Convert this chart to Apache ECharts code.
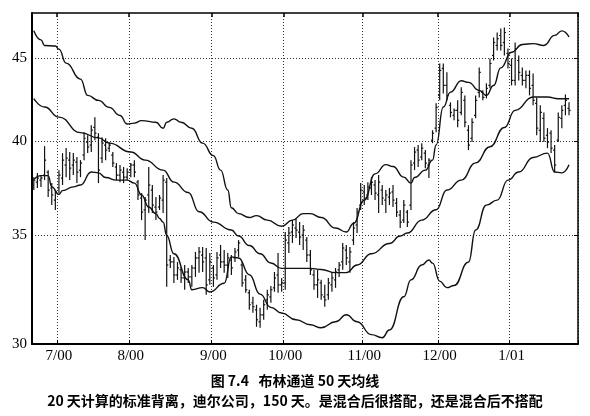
<!DOCTYPE html>
<html><head><meta charset="utf-8">
<script src="https://cdn.jsdelivr.net/npm/echarts@6/dist/echarts.min.js"></script>
<style>html,body{margin:0;padding:0;background:#fff}#c{width:590px;height:416px}</style>
</head><body><div id="c"></div>
<script>
// ---- calendar (trading days) ----
const startDate = '2000-06-22';
const nDays = 152;
const holidays = ['2000-07-04','2000-09-04','2000-11-23','2000-12-25','2001-01-01','2001-01-15'];

// ---- y ticks ----
const yTicks = [30, 35, 40, 45];

// ---- daily bars (150 days) ----
const opens = [37.60,37.75,37.86,38.13,38.29,37.44,36.80,37.44,37.97,38.68,
 38.95,38.68,38.84,38.40,39.23,39.96,39.79,40.81,40.24,39.06,
 39.79,39.62,39.23,38.57,38.13,38.29,38.02,38.40,38.68,37.75,
 36.91,36.29,37.07,37.33,36.44,36.44,36.80,37.75,33.80,33.71,
 33.09,33.33,32.95,33.23,33.00,33.42,33.90,34.04,33.90,32.86,
 33.42,33.09,34.04,33.71,33.56,33.80,33.90,34.28,33.56,32.86,
 32.26,31.81,31.49,30.96,31.27,31.94,32.08,32.49,33.09,32.63,
 32.72,34.63,35.17,35.37,35.17,35.02,34.77,34.04,33.09,32.63,
 32.72,32.08,32.17,32.63,32.86,33.33,33.71,34.28,33.71,34.77,
 35.52,36.54,37.23,37.07,37.44,37.60,37.07,37.33,36.80,36.96,
 37.23,36.64,36.03,35.77,36.18,36.54,38.79,39.51,39.12,39.34,
 38.68,40.07,40.76,42.70,44.37,43.31,42.10,41.51,41.80,41.68,
 42.40,40.64,40.18,41.51,42.88,42.88,42.70,43.31,45.19,45.84,
 46.49,46.03,45.32,44.56,43.62,44.87,43.93,43.62,43.93,43.31,
 42.22,40.64,41.33,40.35,40.47,39.51,40.07,41.33,42.10,41.92];
const highs = [38.02,38.24,38.13,39.73,38.40,37.70,37.33,38.40,39.34,39.62,
 39.40,39.34,39.12,38.95,40.53,40.35,40.93,41.39,40.47,40.24,
 40.18,39.96,39.40,38.79,38.68,38.57,38.51,38.79,38.95,37.86,
 37.17,36.96,38.57,37.60,36.96,37.07,38.13,37.97,34.04,33.95,
 33.71,33.47,33.56,33.42,33.56,34.19,34.43,34.43,34.38,34.14,
 33.56,34.19,34.53,34.28,34.14,34.04,34.38,34.77,33.71,33.09,
 32.40,32.08,31.72,31.58,31.94,32.40,32.58,33.23,34.14,32.95,
 35.17,35.42,35.77,35.88,35.67,35.52,34.92,34.28,33.33,33.33,
 32.86,32.63,32.95,33.19,33.42,33.71,34.63,34.53,34.43,35.67,
 36.39,37.70,37.60,37.75,38.02,37.86,38.13,37.60,37.33,37.44,
 37.60,36.91,36.29,36.80,36.29,38.95,39.68,39.79,39.90,39.51,
 39.06,40.64,42.22,44.68,44.68,44.12,42.28,41.92,42.40,43.19,
 42.70,40.93,41.33,42.70,44.43,43.01,43.44,45.00,46.36,46.69,
 46.95,47.02,45.64,45.00,46.03,45.19,44.43,44.24,44.24,44.05,
 42.58,42.10,41.68,40.76,40.64,39.79,41.68,42.10,42.76,42.28];
const lows = [37.33,37.44,37.49,37.86,36.96,36.54,36.29,37.17,37.60,38.02,
 37.86,38.13,37.70,38.02,38.95,39.34,39.40,40.07,37.70,38.79,
 38.95,39.40,38.57,37.86,37.75,37.70,37.86,38.02,38.02,36.80,
 35.77,34.77,36.13,36.13,35.77,36.29,36.13,32.54,33.42,32.72,
 32.86,32.72,32.40,32.72,32.54,33.00,33.19,33.23,32.17,32.63,
 32.54,32.86,33.42,33.19,32.95,33.09,33.71,33.95,32.54,32.26,
 31.49,31.36,30.74,30.70,31.05,31.49,31.81,32.31,32.26,32.31,
 32.40,34.14,34.63,34.87,34.53,34.28,33.71,33.09,32.40,32.03,
 31.94,31.63,31.94,32.31,32.49,33.00,33.33,33.56,33.19,34.53,
 35.12,36.29,36.54,36.80,37.07,36.80,36.13,36.54,36.13,36.54,
 36.44,35.93,35.37,35.62,35.42,36.29,38.40,38.57,38.95,38.51,
 37.97,39.90,40.53,42.40,42.82,42.40,41.39,41.22,40.81,41.51,
 40.81,39.51,39.96,41.33,42.58,42.40,42.52,43.13,44.87,45.51,
 45.51,45.19,44.37,43.31,43.31,43.62,43.31,43.13,42.70,42.10,
 40.35,39.96,39.96,39.62,39.34,38.29,39.96,40.76,41.51,41.51];
const closes = [37.86,37.97,37.97,38.95,37.33,37.07,37.23,38.13,38.95,39.06,
 38.51,38.95,38.29,38.79,40.18,39.68,40.64,40.47,38.40,39.90,
 39.51,39.79,38.79,38.13,38.40,38.02,38.29,38.68,38.29,37.07,
 36.18,36.80,37.60,36.54,36.18,36.91,37.86,33.56,33.71,33.09,
 33.42,32.95,33.23,33.00,33.42,33.90,34.19,33.71,32.63,33.71,
 32.95,33.90,33.71,33.56,33.90,33.42,34.19,34.63,32.72,32.40,
 31.72,31.63,31.05,31.27,31.72,32.17,32.40,32.95,32.63,32.72,
 34.77,35.12,35.52,35.27,34.92,35.27,34.04,33.33,32.63,32.86,
 32.17,31.94,32.72,32.95,33.23,33.56,34.38,33.90,34.19,35.37,
 36.18,37.33,36.91,37.49,37.75,37.17,37.75,36.91,37.07,37.17,
 36.80,36.18,35.67,36.54,35.67,38.68,39.40,38.95,39.62,38.79,
 38.95,40.47,41.98,44.24,43.31,42.70,41.68,41.80,41.22,42.88,
 41.10,39.79,41.10,42.40,44.12,42.58,43.13,44.68,46.03,46.29,
 45.84,46.69,44.68,43.62,45.64,44.12,43.62,43.93,43.13,42.40,
 40.76,41.68,40.18,39.96,39.62,38.68,41.39,41.80,42.40,41.80];

// ---- bands: [day index, price] ----
const upperBand = [[0,46.8],[2,46.2],[3,45.84],[6,45.8],[7,45.6],[9,44.7],[13,43.7],[15,42.7],[18,42.4],[21,41.98],[24,41.5],[26,41.0],[28,41.05],[30,41.2],[34,41.1],[36,40.75],[37,41.1],[39,41.3],[41,41.1],[44,40.75],[47,39.9],[50,39.2],[52,38.4],[54,37.33],[55,36.4],[57,36.1],[60,35.9],[62,36.0],[65,35.77],[69,35.46],[72,35.77],[75,36.1],[77,36.1],[80,35.9],[84,35.37],[87,35.17],[89,35.6],[92,36.8],[95,38.2],[98,38.7],[100,38.6],[103,38.02],[105,37.7],[106,38.0],[109,38.4],[111,38.95],[112,39.8],[114,42.0],[116,42.9],[119,43.6],[121,43.5],[124,43.0],[126,42.7],[128,43.3],[130,44.4],[133,45.4],[136,45.9],[139,45.96],[142,45.84],[145,46.5],[147,46.8],[149,46.4]];
const middleBand = [[0,42.5],[3,42.0],[7,41.4],[13,40.5],[18,40.2],[21,39.9],[27,39.4],[31,38.95],[36,38.4],[39,37.75],[43,37.2],[46,36.2],[50,35.67],[55,35.27],[57,34.97],[60,34.5],[63,34.1],[66,33.66],[69,33.4],[73,33.4],[77,33.4],[80,33.35],[84,33.2],[87,33.2],[90,33.56],[94,34.1],[99,34.6],[102,34.97],[104,35.12],[108,35.77],[112,36.3],[115,37.33],[119,37.86],[123,38.8],[127,39.7],[131,40.8],[134,41.8],[139,42.6],[143,42.6],[146,42.5],[149,42.5]];
const lowerBand = [[0,37.9],[2,38.1],[4,38.1],[5,37.5],[7,37.1],[8,37.3],[11,37.5],[13,37.6],[16,38.3],[18,38.25],[20,38.0],[23,37.86],[26,37.86],[28,37.7],[30,37.07],[32,36.44],[34,36.1],[35,35.85],[36,35.67],[37,35.0],[39,34.1],[43,32.86],[44,32.4],[47,32.5],[49,32.3],[53,32.7],[55,33.95],[57,33.9],[60,33.1],[63,32.2],[66,31.6],[69,31.35],[73,31.05],[77,30.83],[80,30.7],[84,30.96],[87,31.27],[90,30.96],[94,30.4],[97,30.27],[99,30.6],[103,32.08],[105,32.86],[108,33.56],[110,33.8],[111,33.65],[113,32.8],[115,32.5],[117,32.6],[121,33.7],[123,35.27],[126,36.54],[129,36.8],[132,37.86],[135,38.3],[139,39.1],[143,39.34],[145,38.3],[147,38.25],[149,38.7]];

const caption1 = '图 7.4   布林通道 50 天均线';
const caption2 = '20 天计算的标准背离，迪尔公司，150 天。是混合后很搭配，还是混合后不搭配';

// ---- build categories ----
const categories = [];
(function(){
  const p = startDate.split('-').map(Number);
  const d = new Date(Date.UTC(p[0], p[1]-1, p[2]));
  while (categories.length < nDays) {
    const dow = d.getUTCDay();
    const s = d.toISOString().slice(0,10);
    if (dow !== 0 && dow !== 6 && holidays.indexOf(s) < 0) categories.push(s);
    d.setUTCDate(d.getUTCDate()+1);
  }
})();
const isMonthStart = (idx) => idx > 0 && categories[idx].slice(0,7) !== categories[idx-1].slice(0,7);
const fmtMonth = (v) => { const a = v.split('-'); return (+a[1]) + '/' + a[0].slice(2); };

const ohlc = opens.map((o, i) => [i, o, highs[i], lows[i], closes[i]]);

const chart = echarts.init(document.getElementById('c'));
const dot = {type:[1,2], color:'#333', width:1};
const serif = 'Liberation Serif';
const bandStyle = {color:'#111', width:1.4};
chart.setOption({
  animation: false,
  backgroundColor: '#fff',
  grid: {left:32, right:12, top:13, bottom:72},
  xAxis: [{
    type:'category', data: categories, boundaryGap: true, position:'bottom',
    axisLine:{lineStyle:{color:'#000', width:2}},
    axisTick:{show:true, inside:true, length:4, interval:isMonthStart, lineStyle:{color:'#000'}},
    axisLabel:{interval:isMonthStart, formatter:fmtMonth, fontFamily:serif, fontSize:15, color:'#000', margin:5},
    splitLine:{show:true, interval:isMonthStart, lineStyle:dot}
  },{
    type:'category', data: categories, boundaryGap: true, position:'top',
    axisLine:{lineStyle:{color:'#000', width:1.5}},
    axisTick:{show:true, inside:true, length:4, interval:isMonthStart, lineStyle:{color:'#000', width:1.5}},
    axisLabel:{show:false}, splitLine:{show:false}
  }],
  yAxis: [{
    type:'log', min:30, max:48, position:'left',
    axisLine:{show:true, lineStyle:{color:'#000', width:2}},
    axisTick:{show:false, customValues:yTicks},
    axisLabel:{customValues:yTicks, fontFamily:serif, fontSize:15, color:'#000', margin:5},
    splitLine:{show:true, lineStyle:dot}
  },{
    type:'log', min:30, max:48, position:'right',
    axisLine:{show:true, lineStyle:{color:'#000', width:1.5}},
    axisTick:{show:true, inside:true, length:4, customValues:yTicks, lineStyle:{color:'#000'}},
    axisLabel:{show:false, customValues:yTicks}, splitLine:{show:false}
  }],
  series: [{
    type:'custom', data: ohlc, encode:{x:0, y:[1,2,3,4]}, clip:true,
    renderItem: function(params, api){
      const i = api.value(0);
      const pH = api.coord([i, api.value(2)]);
      const pL = api.coord([i, api.value(3)]);
      const pO = api.coord([i, api.value(1)]);
      const pC = api.coord([i, api.value(4)]);
      const w = 1.6;
      const st = {stroke:'#111', lineWidth:1.2};
      return {type:'group', children:[
        {type:'line', shape:{x1:pH[0], y1:pH[1], x2:pL[0], y2:pL[1]}, style:st},
        {type:'line', shape:{x1:pO[0]-w, y1:pO[1], x2:pO[0], y2:pO[1]}, style:st},
        {type:'line', shape:{x1:pC[0], y1:pC[1], x2:pC[0]+w, y2:pC[1]}, style:st}
      ]};
    }
  },
  {type:'line', data:upperBand, smooth:0.5, smoothMonotone:'x', showSymbol:false, lineStyle:bandStyle},
  {type:'line', data:middleBand, smooth:0.5, smoothMonotone:'x', showSymbol:false, lineStyle:bandStyle},
  {type:'line', data:lowerBand, smooth:0.5, smoothMonotone:'x', showSymbol:false, lineStyle:bandStyle}
  ],
  graphic: [
    {type:'text', left:'center', top:374, style:{text:caption1, font:'bold 14px "Noto Sans CJK SC"', fill:'#000'}},
    {type:'text', left:'center', top:394, style:{text:caption2, font:'bold 14px "Noto Sans CJK SC"', fill:'#000'}}
  ]
});
</script></body></html>
